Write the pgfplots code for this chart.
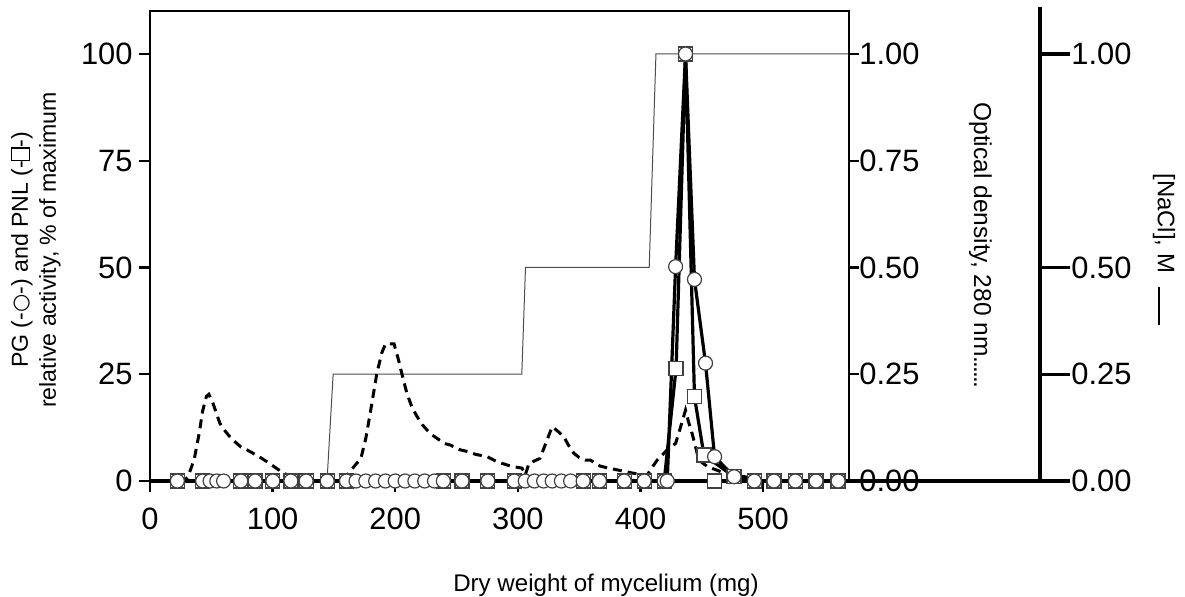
\documentclass[border=0pt]{standalone}
\usepackage{fontspec}
\setmainfont{Liberation Sans}
\newfontfamily\symfont{DejaVu Sans}
\usepackage{pgfplots}
\pgfplotsset{compat=1.18}

\newcommand\opencirc{{\symfont\fontsize{10.5}{10}\selectfont ○}}
\newcommand\opensq{\raisebox{-0.3bp}{\fboxsep=0pt\fboxrule=0.55bp\fbox{\rule{0pt}{8.4bp}\hspace{5.6bp}}}}
\newcommand\dd{.\kern-0.9bp}

\begin{document}
\begin{tikzpicture}
\pgfplotsset{
  every axis/.append style={
    scale only axis,
    /pgf/number format/assume math mode=true,
    tick label style={font=\fontsize{15.5}{18}\selectfont},
    tick align=outside,
    axis line style={line width=1.2bp},
    major tick style={line width=1.2bp, black},
  },
  twodec/.style={/pgf/number format/fixed, /pgf/number format/fixed zerofill,
    /pgf/number format/precision=2},
}

% [NaCl] axis, offset to the right
\begin{axis}[
  width=445bp, height=237bp,
  xmin=0, xmax=726.5, ymin=0, ymax=1.11,
  axis y line*=right, axis x line*=bottom,
  xtick=\empty,
  ytick={0,0.25,0.5,1},
  major tick length=15bp,
  axis line style={line width=1.6bp},
  major tick style={line width=1.6bp},
  yticklabel style={twodec, inner sep=0.5bp},
]
\addplot[gray!60!black, line width=0.5bp] coordinates {
  (0,0) (144.5,0) (149.5,0.25) (303.5,0.25) (306.5,0.5) (407.5,0.5) (413,1.0) (570,1.0)
};
\end{axis}

% optical density axis
\begin{axis}[
  width=349.5bp, height=234.85bp,
  xmin=0, xmax=570, ymin=0, ymax=1.1,
  axis y line*=right, hide x axis,
  ytick={0,0.25,0.5,0.75,1},
  major tick length=5bp,
  yticklabel style={twodec, inner sep=0bp},
]
\addplot[black, line width=1.5bp, dash pattern=on 4.5bp off 3bp] coordinates {
  (0,0) (28,0) (31,0.01) (36,0.05) (40,0.11) (43,0.165) (46,0.198) (48,0.203)
  (51,0.185) (54,0.16) (57,0.135) (61,0.118) (65,0.104) (70,0.09) (74,0.08)
  (79,0.073) (84,0.065) (90,0.055) (96,0.044) (101,0.034) (106,0.024) (112,0.014)
  (118,0.004) (122,0) (155,0) (159,0.006) (163,0.022) (167,0.036) (172,0.053)
  (176,0.1) (180,0.166) (185,0.252) (189,0.3) (192,0.321) (199,0.321) (202.7,0.283)
  (205.5,0.25) (209.5,0.205) (214,0.17) (218,0.15) (222,0.132) (226,0.119)
  (230,0.108) (234,0.1) (240,0.088) (245,0.084) (253,0.073) (259,0.069) (266,0.062)
  (275,0.057) (283,0.045) (294,0.035) (303.4,0.03) (306,0.014) (309,0.041)
  (318,0.053) (323,0.09) (327.9,0.127) (332,0.118) (337.4,0.104) (341,0.085)
  (345.6,0.065) (350,0.055) (355,0.049) (359,0.049) (367,0.035) (374,0.03)
  (381,0.026) (394.5,0.018) (405.5,0.014) (409,0.03) (413.6,0.049) (421.8,0.073)
  (428.6,0.088) (432,0.12) (436.7,0.166) (439,0.14) (442.2,0.11) (447.6,0.049)
  (454.4,0.034) (465.3,0.022) (476,0.014) (487,0.009) (495,0.003) (500,0) (570,0)
};
\end{axis}

% PG and PNL activity axis
\begin{axis}[
  width=349.5bp, height=234.85bp,
  xmin=0, xmax=570, ymin=0, ymax=110,
  axis on top,
  tick pos=left,
  xtick={0,100,200,300,400,500},
  ytick={0,25,50,75,100},
  major tick length=5.5bp,
  tick label style={inner sep=3bp},
  xticklabel style={yshift=-5bp},
]
% PNL
\addplot[black, line width=1.6bp, mark=square*,
  mark options={fill=white, draw=black!75, line width=0.6bp}, mark size=3.5bp] coordinates {
  (22.3,0) (43.0,0) (74.0,0) (85.7,0) (100.2,0) (114.9,0) (127.3,0) (144.5,0)
  (160.2,0) (239.2,0) (254.4,0) (275.5,0) (297.0,0) (353.2,0) (366.5,0) (386.7,0)
  (403.0,0) (419.3,0) (429.0,26.4) (436.7,100) (444.0,19.7) (451.7,6.1) (476.3,1.0)
  (492.8,0) (508.8,0) (526.3,0) (543.1,0) (561.1,0)
};
\addplot[only marks, mark=square*,
  mark options={fill=white, draw=black!75, line width=0.6bp}, mark size=3.5bp] coordinates {
  (460.4,0)
};
% PG
\addplot[black, line width=1.6bp, mark=*,
  mark options={fill=white, draw=black!75, line width=0.6bp}, mark size=3.5bp] coordinates {
  (22.3,0) (43.0,0) (49,0) (54.5,0) (60,0) (74.0,0) (85.7,0) (100.2,0) (114.9,0)
  (127.3,0) (144.5,0) (160.2,0) (168,0) (176,0) (184,0) (192,0) (200,0) (208,0)
  (216,0) (224,0) (232,0) (239.2,0) (254.4,0) (275.5,0) (297.0,0) (306,0) (313.5,0)
  (321,0) (328,0) (335.5,0) (343,0) (353.2,0) (366.5,0) (386.7,0) (403.0,0)
  (419.3,0) (421.8,0) (428.6,50.2) (436.7,100) (444.0,47.2) (453.0,27.6) (460.4,5.7)
  (476.3,1.0) (492.8,0) (508.8,0) (526.3,0) (543.1,0) (561.1,0)
};
\end{axis}

\node[rotate=90, anchor=base, inner sep=0pt,
  font=\fontsize{11.6}{13}\selectfont] at (-61bp,115.5bp)
  {PG (-\opencirc-) and PNL (-\opensq-)};
\node[rotate=90, anchor=base, inner sep=0pt,
  font=\fontsize{11.6}{13}\selectfont] at (-47bp,115.5bp)
  {relative activity, \% of maximum};
\node[rotate=-90, anchor=west, inner sep=0pt,
  font=\fontsize{12.3}{14}\selectfont] at (415.25bp,189.5bp)
  {Optical density, 280 nm\dd\dd\dd\dd\dd.};
\node[rotate=-90, anchor=west, inner sep=0pt,
  font=\fontsize{12}{14}\selectfont] at (507bp,154bp)
  {[NaCl], M\hspace{0.6em}\rule{19bp}{1bp}};
\node[anchor=base, inner sep=0pt, font=\fontsize{12.1}{14}\selectfont]
  at (228bp,-55bp) {Dry weight of mycelium (mg)};

\pgfresetboundingbox
\path[use as bounding box] (-75bp,-58bp) rectangle (517.5bp,240.5bp);
\end{tikzpicture}
\end{document}
